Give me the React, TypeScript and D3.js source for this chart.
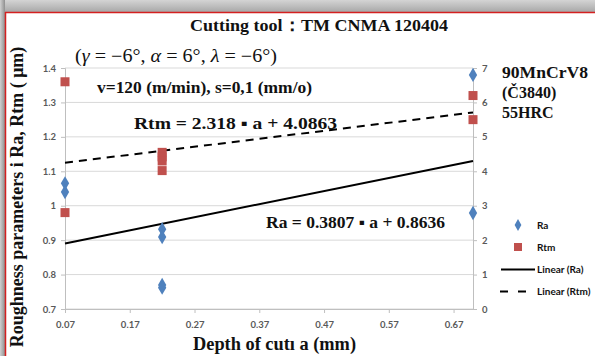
import { useEffect, useRef } from "react";
import * as d3 from "d3";

// depth of cut a (mm) for each measured point
const raDepth = [0.07, 0.07, 0.22, 0.22, 0.22, 0.22, 0.7, 0.7];
const raValues = [1.065, 1.04, 0.932, 0.909, 0.77, 0.762, 1.38, 0.979];
const rtmDepth = [0.07, 0.07, 0.22, 0.22, 0.22, 0.22, 0.7, 0.7];
const rtmValues = [6.6, 2.8, 4.55, 4.42, 4.3, 4.02, 6.2, 5.5];

const raTrend = { slope: 0.3807, intercept: 0.8636 };
const rtmTrend = { slope: 2.318, intercept: 4.0863 };

const xTicks = [0.07, 0.17, 0.27, 0.37, 0.47, 0.57, 0.67];
const yLeftTicks = [0.7, 0.8, 0.9, 1, 1.1, 1.2, 1.3, 1.4];
const yRightTicks = [0, 1, 2, 3, 4, 5, 6, 7];

const BLUE = "#4f81bd";
const RED = "#c0504d";

export default function App() {
  const ref = useRef<SVGSVGElement>(null);

  useEffect(() => {
    const svg = d3.select(ref.current);
    svg.selectAll("*").remove();

    const W = 595;
    const H = 356;
    const m = { left: 65, right: 473, top: 68, bottom: 309 };

    const x = d3.scaleLinear().domain([0.07, 0.7]).range([m.left, m.right]);
    const yL = d3.scaleLinear().domain([0.7, 1.4]).range([m.bottom, m.top]);
    const yR = d3.scaleLinear().domain([0, 7]).range([m.bottom, m.top]);

    // frame / shadow
    const defs = svg.append("defs");
    const gTop = defs.append("linearGradient").attr("id", "shTop").attr("x1", 0).attr("y1", 0).attr("x2", 0).attr("y2", 1);
    gTop.append("stop").attr("offset", "0%").attr("stop-color", "#d4d4d4");
    gTop.append("stop").attr("offset", "100%").attr("stop-color", "#a8a8a8");
    const gLeft = defs.append("linearGradient").attr("id", "shLeft").attr("x1", 0).attr("y1", 0).attr("x2", 1).attr("y2", 0);
    gLeft.append("stop").attr("offset", "0%").attr("stop-color", "#d0d0d0");
    gLeft.append("stop").attr("offset", "100%").attr("stop-color", "#8f8f8f");

    svg.append("rect").attr("width", W).attr("height", H).attr("fill", "#fff");
    svg.append("rect").attr("x", 0).attr("y", 0).attr("width", W).attr("height", 12).attr("fill", "url(#shTop)");
    svg.append("rect").attr("x", 0).attr("y", 0).attr("width", 5).attr("height", H).attr("fill", "url(#shLeft)");
    svg.append("line").attr("x1", 5).attr("x2", W).attr("y1", 12.5).attr("y2", 12.5).attr("stroke", "#d42020").attr("stroke-width", 1.5);
    svg.append("line").attr("x1", 5.5).attr("x2", 5.5).attr("y1", 12).attr("y2", H).attr("stroke", "#d42020").attr("stroke-width", 1.5);

    // gridlines
    svg
      .append("g")
      .selectAll("line")
      .data(yLeftTicks)
      .join("line")
      .attr("x1", m.left)
      .attr("x2", m.right)
      .attr("y1", (d) => yL(d))
      .attr("y2", (d) => yL(d))
      .attr("stroke", "#d9d9d9")
      .attr("stroke-width", 1);

    const axisColor = "#bfbfbf";
    const tickFont = "Lato, 'Open Sans', sans-serif";

    // left axis
    const left = svg.append("g").attr("transform", `translate(${m.left},0)`).call(d3.axisLeft(yL).tickValues(yLeftTicks).tickSize(4).tickFormat((d) => d3.format("")(+d as number)));
    left.select(".domain").attr("stroke", axisColor);
    left.selectAll(".tick line").attr("stroke", axisColor);
    left.selectAll("text").attr("fill", "#595959").attr("font-family", tickFont).attr("font-weight", "bold").attr("font-size", 9.5).attr("x", -9);

    // right axis
    const right = svg.append("g").attr("transform", `translate(${m.right},0)`).call(d3.axisRight(yR).tickValues(yRightTicks).tickSize(4).tickFormat(d3.format("d")));
    right.select(".domain").attr("stroke", axisColor);
    right.selectAll(".tick line").attr("stroke", axisColor);
    right.selectAll("text").attr("fill", "#595959").attr("font-family", tickFont).attr("font-weight", "bold").attr("font-size", 9.5).attr("x", 9);

    // bottom axis
    const bottom = svg.append("g").attr("transform", `translate(0,${m.bottom})`).call(d3.axisBottom(x).tickValues(xTicks).tickSize(4).tickSizeOuter(0).tickFormat(d3.format(".2f")));
    bottom.select(".domain").attr("stroke", axisColor);
    bottom.selectAll(".tick line").attr("stroke", axisColor);
    bottom.selectAll("text").attr("fill", "#595959").attr("font-family", tickFont).attr("font-weight", "bold").attr("font-size", 9.5).attr("y", 12);

    // trend lines
    svg
      .append("line")
      .attr("x1", x(0.07))
      .attr("x2", x(0.7))
      .attr("y1", yL(raTrend.slope * 0.07 + raTrend.intercept))
      .attr("y2", yL(raTrend.slope * 0.7 + raTrend.intercept))
      .attr("stroke", "#000")
      .attr("stroke-width", 2);
    svg
      .append("line")
      .attr("x1", x(0.07))
      .attr("x2", x(0.7))
      .attr("y1", yR(rtmTrend.slope * 0.07 + rtmTrend.intercept))
      .attr("y2", yR(rtmTrend.slope * 0.7 + rtmTrend.intercept))
      .attr("stroke", "#000")
      .attr("stroke-width", 2)
      .attr("stroke-dasharray", "8,6");

    // markers
    const diamond = d3.symbol(d3.symbolDiamond, 60);
    svg
      .append("g")
      .selectAll("path")
      .data(raValues)
      .join("path")
      .attr("d", diamond)
      .attr("transform", (d, i) => `translate(${x(raDepth[i])},${yL(d)})`)
      .attr("fill", BLUE);
    svg
      .append("g")
      .selectAll("rect")
      .data(rtmValues)
      .join("rect")
      .attr("x", (d, i) => x(rtmDepth[i]) - 4.5)
      .attr("y", (d) => yR(d) - 4.5)
      .attr("width", 9)
      .attr("height", 9)
      .attr("fill", RED);

    const serif = "'Liberation Serif', 'Times New Roman', serif";
    const txt = (tx: number, ty: number, s: string, size: number, len?: number) => {
      const t = svg
        .append("text")
        .attr("x", tx)
        .attr("y", ty)
        .attr("font-family", serif)
        .attr("font-weight", "bold")
        .attr("font-size", size)
        .attr("fill", "#111")
        .text(s);
      if (len) t.attr("textLength", len).attr("lengthAdjust", "spacingAndGlyphs");
      return t;
    };

    txt(190, 31, "Cutting tool：TM CNMA 120404", 17.5, 258);

    // angle line
    const ang = svg
      .append("text")
      .attr("x", 75)
      .attr("y", 62)
      .attr("font-family", serif)
      .attr("font-size", 18)
      .attr("fill", "#111")
      .attr("textLength", 202)
      .attr("lengthAdjust", "spacingAndGlyphs");
    const parts: [string, boolean][] = [
      ["(", false],
      ["γ", true],
      [" = −6°, ", false],
      ["α", true],
      [" = 6°, ", false],
      ["λ", true],
      [" = −6°)", false],
    ];
    parts.forEach(([s, it]) => ang.append("tspan").attr("font-style", it ? "italic" : "normal").text(s));

    txt(97, 93, "v=120 (m/min), s=0,1 (mm/o)", 16, 215);
    txt(134, 129, "Rtm = 2.318 ▪ a + 4.0863", 17, 203);
    txt(266, 228, "Ra = 0.3807 ▪ a + 0.8636", 17, 179);

    txt(502, 78, "90MnCrV8", 16, 86);
    txt(502, 98, "(Č3840)", 16);
    txt(502, 118, "55HRC", 16);

    txt(193, 350, "Depth of cutı a (mm)", 18, 163);

    svg
      .append("text")
      .attr("transform", `translate(23,${197}) rotate(-90)`)
      .attr("text-anchor", "middle")
      .attr("font-family", serif)
      .attr("font-weight", "bold")
      .attr("font-size", 18)
      .attr("fill", "#111")
      .text("Roughness parameters i Ra, Rtm ( μm)");

    // legend
    const lg = svg.append("g").attr("font-family", tickFont).attr("font-weight", "bold").attr("font-size", 10).attr("fill", "#111");
    lg.append("path").attr("d", d3.symbol(d3.symbolDiamond, 40)).attr("transform", "translate(518,225)").attr("fill", BLUE);
    lg.append("text").attr("x", 537).attr("y", 229).text("Ra");
    lg.append("rect").attr("x", 514).attr("y", 243).attr("width", 8).attr("height", 8).attr("fill", RED);
    lg.append("text").attr("x", 537).attr("y", 251).text("Rtm");
    lg.append("line").attr("x1", 501).attr("x2", 535).attr("y1", 269.5).attr("y2", 269.5).attr("stroke", "#000").attr("stroke-width", 2);
    lg.append("text").attr("x", 537).attr("y", 273).text("Linear (Ra)");
    lg.append("line").attr("x1", 500).attr("x2", 526).attr("y1", 291.5).attr("y2", 291.5).attr("stroke", "#000").attr("stroke-width", 2).attr("stroke-dasharray", "8,10");
    lg.append("text").attr("x", 537).attr("y", 295).text("Linear (Rtm)");
  }, []);

  return (
    <svg
      ref={ref}
      width={595}
      height={356}
      style={{ position: "absolute", left: 0, top: 0, display: "block" }}
    ></svg>
  );
}
